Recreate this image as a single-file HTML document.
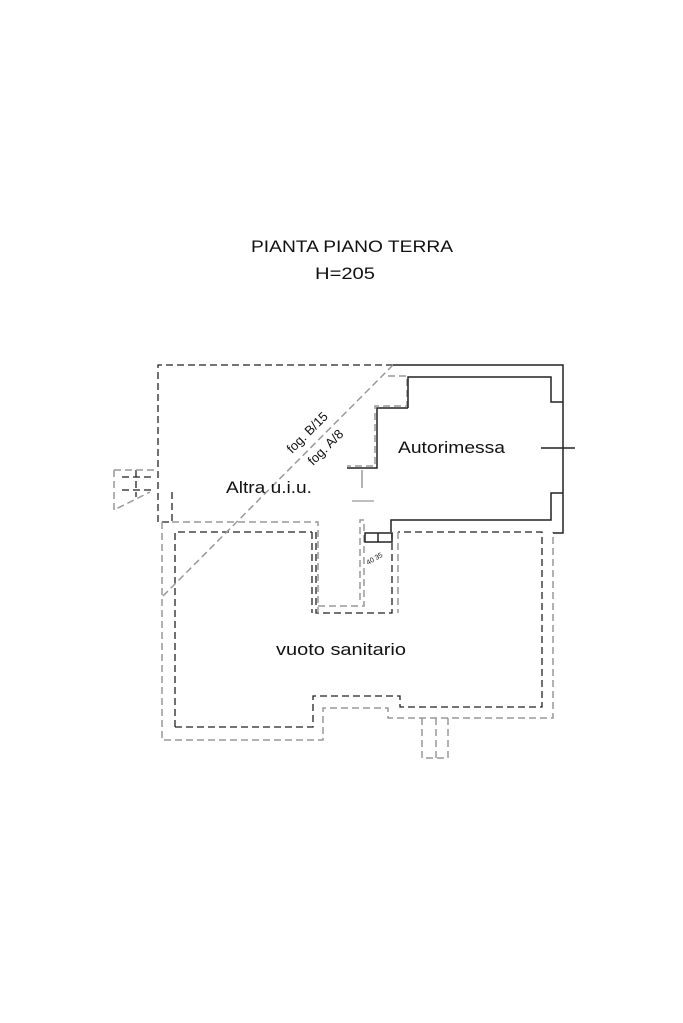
<!DOCTYPE html>
<html><head><style>
html,body{margin:0;padding:0;background:#fff;}
svg{display:block;}
text{font-family:"Liberation Sans",sans-serif;fill:#111;}
</style></head><body>
<svg width="683" height="1023" viewBox="0 0 683 1023" xmlns="http://www.w3.org/2000/svg">
<text x="251" y="252" font-size="17" textLength="202" lengthAdjust="spacingAndGlyphs">PIANTA PIANO TERRA</text>
<text x="315" y="279" font-size="17" textLength="60" lengthAdjust="spacingAndGlyphs">H=205</text>

<g fill="none" stroke="#222" stroke-width="1.3" stroke-dasharray="7,4">
<polyline points="393,365 158,365 158,522 172,522"/>
<line x1="172" y1="492" x2="172" y2="522"/>
<polyline points="175,727 175,532 312,532"/>
<polyline points="175,727 313,727 313,696 400,696 400,707 542,707 542,532 398,532"/>
<polyline points="316,532 316,613 392,613 392,533"/>
<line x1="312" y1="532" x2="312" y2="613"/>
<line x1="122" y1="477" x2="155" y2="477"/><line x1="122" y1="490" x2="155" y2="490"/>
<line x1="136" y1="470" x2="136" y2="497"/>
</g>
<g fill="none" stroke="#999" stroke-width="1.5" stroke-dasharray="7,4">
<line x1="393" y1="365" x2="162" y2="597"/>
<polyline points="162,522 162,740 323,740 323,708 388,708 388,718 553,718 553,532"/>
<polyline points="172,522 318,522 318,613"/>
<polyline points="388,376 407,376 407,406 375,406 375,466 347,466"/>
<polyline points="360,600 360,520 364,520 364,606 318,606"/>
<line x1="398" y1="532" x2="398" y2="613"/>
<polyline points="114,470 114,510 150,492"/><line x1="114" y1="470" x2="155" y2="470"/>
<polyline points="422,718 422,758 448,758 448,718"/>
<line x1="436" y1="718" x2="436" y2="758"/>
</g>
<line x1="352" y1="501" x2="374" y2="501" stroke="#aaa" stroke-width="1.5"/>
<line x1="362" y1="470" x2="362" y2="488" stroke="#999" stroke-width="1.5"/>
<g fill="none" stroke="#222" stroke-width="1.5">
<polyline points="393,365 563,365 563,533 553,533"/>
<polyline points="408,408 408,377 551,377 551,402 563,402"/>
<polyline points="408,408 377,408 377,468 347,468"/>
<polyline points="563,493 551,493 551,520 391,520 391,532"/>
<line x1="541" y1="448" x2="575" y2="448"/>
<rect x="365" y="533" width="27" height="9"/>
<line x1="378" y1="533" x2="378" y2="542"/>
</g>
<text x="398" y="453" font-size="17" textLength="107" lengthAdjust="spacingAndGlyphs">Autorimessa</text>
<text x="226" y="493" font-size="17" textLength="86" lengthAdjust="spacingAndGlyphs">Altra u.i.u.</text>
<text x="276" y="655" font-size="17" textLength="130" lengthAdjust="spacingAndGlyphs">vuoto sanitario</text>
<text x="0" y="0" font-size="13" transform="translate(292,454) rotate(-45)">fog. B/15</text>
<text x="0" y="0" font-size="13" transform="translate(313,466) rotate(-45)">fog. A/8</text>
<text x="0" y="0" font-size="7" transform="translate(368,565) rotate(-30)">40 35</text>
</svg>
</body></html>
